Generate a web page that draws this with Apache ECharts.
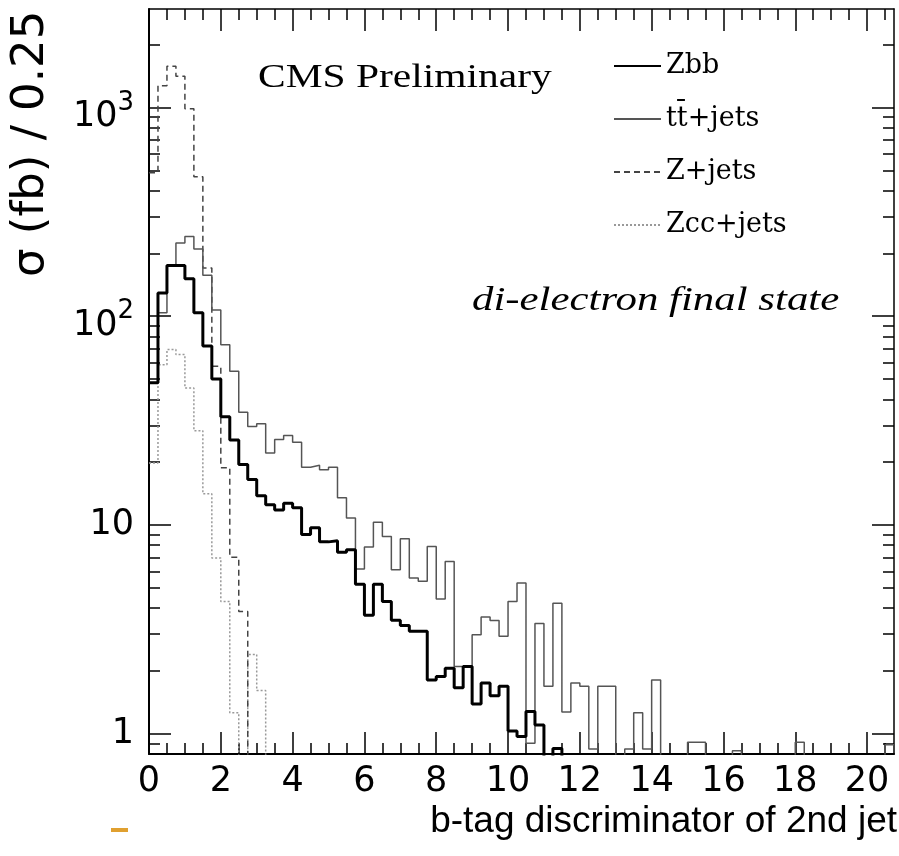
<!DOCTYPE html>
<html><head><meta charset="utf-8">
<script src="https://cdn.jsdelivr.net/npm/echarts@6/dist/echarts.min.js"></script>
<style>html,body{margin:0;padding:0;background:#fff}#c{width:899px;height:856px}</style>
</head><body><div id="c"></div>
<script>
// ---- data ----
const binWidth = 0.25;           // histogram bin width (x units)
const xMin = 0, xMax = 20.75;
const yMin = 0.8, yMax = 2960;
const xMajorTicks = [0,2,4,6,8,10,12,14,16,18,20];
const xMinorTicks = [0.5,1,1.5,2.5,3,3.5,4.5,5,5.5,6.5,7,7.5,8.5,9,9.5,10.5,11,11.5,12.5,13,13.5,14.5,15,15.5,16.5,17,17.5,18.5,19,19.5,20.5];
const yMajorTicks = [1,10,100,1000];
const yMinorTicks = [0.9,2,3,4,5,6,7,8,9,20,30,40,50,60,70,80,90,200,300,400,500,600,700,800,900,2000];
const seriesNames = ['Zbb','tt\u0304+jets','Z+jets','Zcc+jets'];

// bin contents (sigma in fb per 0.25), bin k covers [k*0.25,(k+1)*0.25]; 0 = empty bin
const zbb = [48,129,175,175,151,104,72,50,33,25.5,19.5,16.5,13.8,12.5,11.8,12.7,12.1,9.0,9.7,8.3,
  8.4,7.4,7.6,5.2,3.7,5.2,4.3,3.5,3.3,3.1,3.1,1.81,1.88,2.06,1.66,2.10,1.39,1.75,1.52,1.69,
  1.03,0.97,1.28,1.10,0,0.85,0];
const ttbar = [48,104,175,224,241,210,157,107,73,54.5,34.7,29.6,30.5,22.1,25.7,26.8,24.9,18.9,19.3,18.4,
  18.9,13.5,10.8,6.15,7.85,10.3,8.8,6.1,8.6,5.57,5.37,7.89,4.42,6.69,2.10,2.10,2.98,3.62,3.49,2.93,
  4.30,5.27,0.90,3.37,1.69,4.22,1.27,1.75,1.69,0.845,1.69,1.69,0,0.845,1.26,0.845,1.81,0,0,0,
  0.91,0.91,0,0,0,0.83,0,0,0,0,0,0,0.91,0,0,0,0,0,0,0,
  0,0,0.885];
const zjets = [486,1270,1575,1410,985,465,170,57.5,18.8,7.0,3.85,0];
const zcc = [19.8,58.6,69.2,65.5,45.3,28.3,14.1,6.95,4.3,1.26,0,2.4,1.61,0];

// ---- build ----
const floorValue = 0.01; // empty bins: drawn below the frame (clipped)
function toSteps(vals){
  const pts = [];
  for (let k = 0; k < vals.length; k++) pts.push([k*binWidth, vals[k] > 0 ? vals[k] : floorValue]);
  const last = vals[vals.length-1];
  pts.push([vals.length*binWidth, last > 0 ? last : floorValue]);
  return pts;
}
const tickColor = '#000';
function xAx(pos, major, withLine){
  return {
    type:'value', position:pos, min:xMin, max:xMax, gridIndex:0,
    axisLine:{show:withLine, onZero:false, lineStyle:{color:'#000', width: pos==='bottom'?2:1.5}},
    axisTick:{show:true, inside:true, length: major?22:11, customValues: major?xMajorTicks:xMinorTicks, lineStyle:{color:tickColor, width:1.5}},
    axisLabel:{show:false}, splitLine:{show:false}, minorTick:{show:false}
  };
}
function yAx(pos, major, withLine){
  return {
    type:'log', logBase:10, position:pos, min:yMin, max:yMax, gridIndex:0,
    axisLine:{show:withLine, onZero:false, lineStyle:{color:'#000', width: pos==='left'?2:1.5}},
    axisTick:{show:true, inside:true, length: major?22:11, customValues: major?yMajorTicks:yMinorTicks, lineStyle:{color:tickColor, width:1.5}},
    axisLabel:{show:false}, splitLine:{show:false}, minorTick:{show:false}
  };
}
const xBottom = xAx('bottom', true, true);
xBottom.axisLabel = {show:true, customValues:xMajorTicks, fontFamily:'DejaVu Sans', fontSize:35, color:'#000', margin:10};
xBottom.name = 'b-tag discriminator of 2nd jet';
xBottom.nameLocation = 'end';
xBottom.nameGap = 3;
xBottom.nameMoveOverlap = false;
xBottom.nameTextStyle = {fontFamily:'Liberation Sans', fontSize:37, color:'#000', align:'right', verticalAlign:'top', padding:[49,0,0,0]};

const yLeft = yAx('left', true, true);
yLeft.axisLabel = {
  show:true, customValues:yMajorTicks, fontFamily:'DejaVu Sans', fontSize:35, color:'#000', margin:15,
  formatter: function(v){
    const e = Math.round(Math.log10(v));
    if (e <= 1) return String(Math.round(v));
    return '{b|10}{s|' + e + '}';
  },
  rich:{
    b:{fontFamily:'DejaVu Sans', fontSize:35, verticalAlign:'bottom', color:'#000'},
    s:{fontFamily:'DejaVu Sans', fontSize:26, padding:[10,0,19,0], verticalAlign:'top', color:'#000'}
  }
};
yLeft.name = '\u03c3 (fb) / 0.25';
yLeft.nameLocation = 'end';
yLeft.nameRotate = 90;
yLeft.nameGap = -268;
yLeft.nameMoveOverlap = false;
yLeft.nameTextStyle = {fontFamily:'DejaVu Sans', fontSize:45, color:'#000', align:'left', verticalAlign:'bottom', padding:[0,0,95,0]};

const styles = [
  {color:'#000', width:3, type:'solid'},
  {color:'#555', width:1.5, type:'solid'},
  {color:'#444', width:1.5, type:[6,4]},
  {color:'#999', width:1.5, type:[2,2]}
];
const dataSets = [zbb, ttbar, zjets, zcc];
const series = dataSets.map((d,i)=>({
  type:'line', name:seriesNames[i], step:'end', data:toSteps(d), symbol:'none', showSymbol:false,
  xAxisIndex:0, yAxisIndex:0, clip:true, lineStyle:styles[i], itemStyle:{color:styles[i].color},
  z: 4-i, animation:false, emphasis:{disabled:true}
}));

const chart = echarts.init(document.getElementById('c'), null, {renderer:'canvas'});
chart.setOption({
  animation:false,
  backgroundColor:'#fff',
  grid:{left:149, right:5, top:9, bottom:102, containLabel:false, outerBoundsMode:'none'},
  xAxis:[xBottom, xAx('bottom', false, false), xAx('top', true, true), xAx('top', false, false)],
  yAxis:[yLeft, yAx('left', false, false), yAx('right', true, true), yAx('right', false, false)],
  legend:{
    data:seriesNames, orient:'vertical', left:608, top:47, itemWidth:47, itemHeight:14, itemGap:25,
    itemStyle:{opacity:0},
    textStyle:{fontFamily:'DejaVu Serif', fontSize:27, lineHeight:28, color:'#000'},
    selectedMode:false
  },
  graphic:[
    {type:'text', x:258, y:78, scaleX:1.22, style:{text:'CMS Preliminary', fontFamily:'Liberation Serif', fontSize:34, fill:'#000', align:'left', verticalAlign:'middle'}},
    {type:'text', x:472, y:301, scaleX:1.26, style:{text:'di-electron final state', fontFamily:'Liberation Serif', fontStyle:'italic', fontSize:34, fill:'#000', align:'left', verticalAlign:'middle'}},
    {type:'rect', shape:{x:111, y:828, width:17, height:4}, style:{fill:'#e0a030'}}
  ],
  series: series
});
</script></body></html>
